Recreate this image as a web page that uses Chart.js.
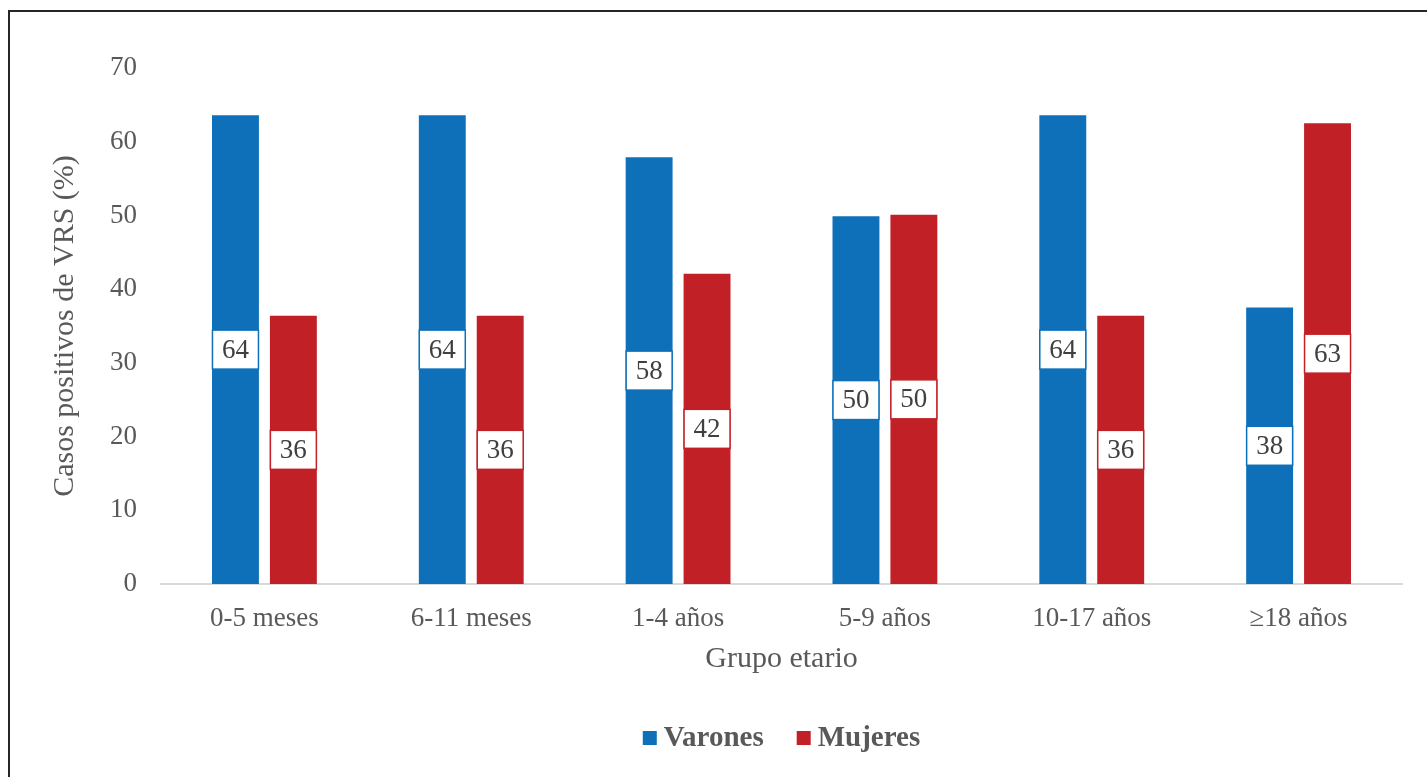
<!DOCTYPE html>
<html>
<head>
<meta charset="utf-8">
<script src="https://cdn.jsdelivr.net/npm/chart.js@4.4.1/dist/chart.umd.min.js"></script>
<style>
  html, body { margin: 0; padding: 0; background: #ffffff; overflow: hidden; }
  #frame { position: absolute; left: 8px; top: 10px; width: 1600px; height: 900px;
           border-top: 2px solid #262626; border-left: 2px solid #262626; }
  #c { position: absolute; left: 0; top: 0; }
</style>
</head>
<body>
<div id="frame"></div>
<canvas id="c" width="1427" height="777"></canvas>
<script>
const categories = ["0-5 meses", "6-11 meses", "1-4 años", "5-9 años", "10-17 años", "\u226518 años"];
const varones = [63.6, 63.6, 57.9, 49.9, 63.6, 37.5];
const mujeres = [36.4, 36.4, 42.1, 50.1, 36.4, 62.5];
const yTicks = [0, 10, 20, 30, 40, 50, 60, 70];
const seriesNames = ["Varones", "Mujeres"];

const BLUE = "#0e70b8";
const RED = "#c12026";
const TEXT = "#595959";
const SERIF = "'Liberation Serif', 'Times New Roman', serif";

const labelBoxes = {
  id: "labelBoxes",
  afterDatasetsDraw(chart) {
    const ctx = chart.ctx;
    ctx.save();
    chart.data.datasets.forEach((ds, di) => {
      const meta = chart.getDatasetMeta(di);
      meta.data.forEach((bar, i) => {
        const v = ds.data[i];
        const cy = (bar.y + bar.base) / 2;
        const cx = bar.x;
        const w = 46, h = 39;
        ctx.fillStyle = "#ffffff";
        ctx.fillRect(cx - w / 2, cy - h / 2, w, h);
        ctx.strokeStyle = ds.backgroundColor;
        ctx.lineWidth = 1.5;
        ctx.strokeRect(cx - w / 2, cy - h / 2, w, h);
        ctx.fillStyle = "#404040";
        ctx.font = "27px " + SERIF;
        ctx.textAlign = "center";
        ctx.textBaseline = "middle";
        ctx.fillText(String(Math.round(v)), cx, cy + 1);
      });
    });
    ctx.restore();
  }
};

const customLegend = {
  id: "customLegend",
  afterDraw(chart) {
    const ctx = chart.ctx;
    const area = chart.chartArea;
    ctx.save();
    ctx.font = "bold 29px " + SERIF;
    const box = 14, gapText = 7, gapItem = 33;
    const widths = chart.data.datasets.map(ds => ctx.measureText(ds.label).width);
    const total = widths.reduce((a, w) => a + box + gapText + w, 0) + gapItem * (widths.length - 1);
    let x = (area.left + area.right) / 2 - total / 2;
    const cy = 738;
    chart.data.datasets.forEach((ds, i) => {
      ctx.fillStyle = ds.backgroundColor;
      ctx.fillRect(x, cy - box / 2, box, box);
      x += box + gapText;
      ctx.fillStyle = TEXT;
      ctx.textAlign = "left";
      ctx.textBaseline = "middle";
      ctx.fillText(ds.label, x, cy + 1);
      x += widths[i] + gapItem;
    });
    ctx.restore();
  }
};

new Chart(document.getElementById("c"), {
  type: "bar",
  data: {
    labels: categories,
    datasets: [
      { label: seriesNames[0], data: varones, backgroundColor: BLUE },
      { label: seriesNames[1], data: mujeres, backgroundColor: RED }
    ]
  },
  options: {
    responsive: false,
    animation: false,
    devicePixelRatio: 1,
    categoryPercentage: 0.56,
    barPercentage: 0.81,
    layout: { padding: { left: 20, right: 25, top: 68, bottom: 62 } },
    plugins: {
      tooltip: { enabled: false },
      legend: { display: false }
    },
    scales: {
      x: {
        grid: { display: false, drawTicks: false },
        border: { display: true, color: "#d9d9d9", width: 2 },
        ticks: { color: TEXT, padding: 19, font: { family: SERIF, size: 27 } },
        title: {
          display: true, text: "Grupo etario", color: TEXT,
          font: { family: SERIF, size: 30 },
          padding: { top: 0, bottom: 38 }
        },
        afterFit(s) { s.height = 131; }
      },
      y: {
        min: 0, max: 70,
        afterBuildTicks(s) { s.ticks = yTicks.map(v => ({ value: v })); },
        grid: { display: false, drawTicks: false },
        border: { display: false },
        ticks: { color: TEXT, padding: 24, font: { family: SERIF, size: 27 } },
        title: {
          display: true, text: "Casos positivos de VRS (%)", color: TEXT,
          font: { family: SERIF, size: 30 },
          padding: { top: 27, bottom: 0 }
        },
        afterFit(s) { s.width = 141; }
      }
    }
  },
  plugins: [labelBoxes, customLegend]
});
</script>
</body>
</html>
